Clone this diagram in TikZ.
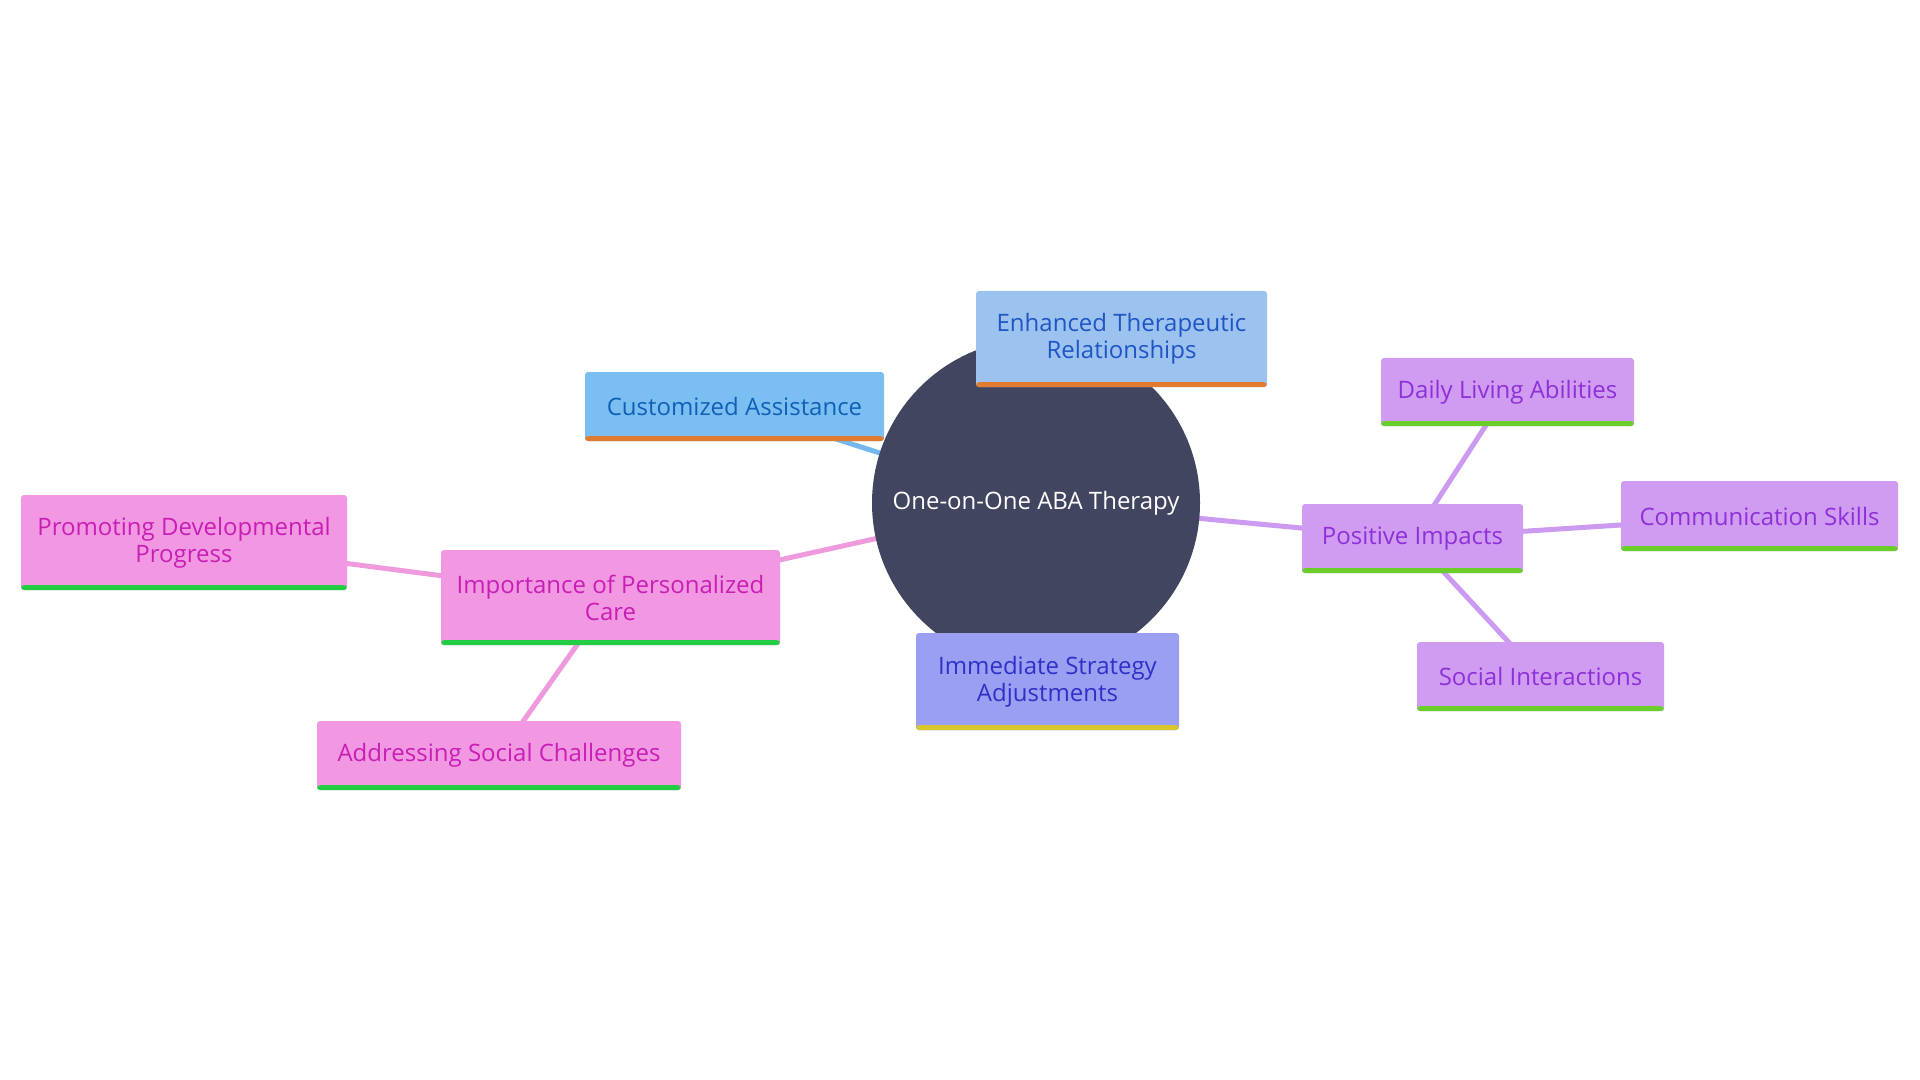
\documentclass[tikz,border=0pt]{standalone}
\usepackage{fontspec}
\setmainfont{Open Sans}
\usetikzlibrary{backgrounds}
\definecolor{hubfill}{HTML}{414560}
\definecolor{custfill}{HTML}{7BBEF2}
\definecolor{custtext}{HTML}{1060B8}
\definecolor{enhfill}{HTML}{9CC3F0}
\definecolor{enhtext}{HTML}{1F55C4}
\definecolor{orangebar}{HTML}{E07B30}
\definecolor{immfill}{HTML}{9B9FF2}
\definecolor{immtext}{HTML}{3030C8}
\definecolor{yellowbar}{HTML}{D8C72A}
\definecolor{purfill}{HTML}{CF9CF2}
\definecolor{purtext}{HTML}{8E30D8}
\definecolor{limebar}{HTML}{6ACD2A}
\definecolor{pinkfill}{HTML}{F298E2}
\definecolor{pinktext}{HTML}{C81EB4}
\definecolor{greenbar}{HTML}{22CC44}
\definecolor{bluelink}{HTML}{74B8EE}
\definecolor{purlink}{HTML}{CC9AF0}
\definecolor{pinklink}{HTML}{F09ADE}
\tikzset{
  box/.style={rectangle, rounded corners=1.5pt, inner sep=0pt, align=center,
    font=\fontsize{12}{13.5}\selectfont,
    path picture={\fill[#1] ([yshift=-1pt]path picture bounding box.south west) rectangle ([yshift=2.4pt]path picture bounding box.south east);}},
  custbox/.style={box=orangebar, fill=custfill, text=custtext},
  enhbox/.style={box=orangebar, fill=enhfill, text=enhtext},
  immbox/.style={box=yellowbar, fill=immfill, text=immtext},
  purbox/.style={box=limebar, fill=purfill, text=purtext},
  pinkbox/.style={box=greenbar, fill=pinkfill, text=pinktext},
  link/.style={line width=2.5pt, draw=#1}
}
\begin{document}
\begin{tikzpicture}[x=0.5pt,y=-0.5pt]
\useasboundingbox (0,0) rectangle (1920,1080);
\node[circle, fill=hubfill, minimum size=164pt, inner sep=0pt, text=white, font=\fontsize{12}{13.5}\selectfont] (hub) at (1036,503) {One-on-One ABA Therapy};
\node[custbox, minimum width=149.5pt, minimum height=34.5pt] (cust) at (734.5,406.5) {Customized Assistance};
\node[enhbox, minimum width=145.5pt, minimum height=48pt] (enh) at (1121.5,339) {Enhanced Therapeutic\\Relationships};
\node[immbox, minimum width=131.5pt, minimum height=48.5pt] (imm) at (1047.5,681.5) {Immediate Strategy\\Adjustments};
\node[purbox, minimum width=110.5pt, minimum height=34.5pt] (pos) at (1412.5,538.5) {Positive Impacts};
\node[purbox, minimum width=126.5pt, minimum height=34pt] (daily) at (1507.5,392) {Daily Living Abilities};
\node[purbox, minimum width=138.5pt, minimum height=35pt] (comm) at (1759.5,516) {Communication Skills};
\node[purbox, minimum width=123.5pt, minimum height=34.5pt] (soc) at (1540.5,676.5) {Social Interactions};
\node[pinkbox, minimum width=169.5pt, minimum height=47.5pt] (imp) at (610.5,597.5) {Importance of Personalized\\Care};
\node[pinkbox, minimum width=163pt, minimum height=47.5pt] (prom) at (184,542.5) {Promoting Developmental\\Progress};
\node[pinkbox, minimum width=182pt, minimum height=34.5pt] (addr) at (499,755.5) {Addressing Social Challenges};
\begin{pgfonlayer}{background}
\draw[link=bluelink] (hub.center) -- (cust.center);
\draw[link=bluelink] (hub.center) -- (enh.center);
\draw[link=immfill] (hub.center) -- (imm.center);
\draw[link=purlink] (hub.center) -- (pos.center);
\draw[link=purlink] (pos.center) -- (daily.center);
\draw[link=purlink] (pos.center) -- (comm.center);
\draw[link=purlink] (pos.center) -- (soc.center);
\draw[link=pinklink] (hub.center) -- (imp.center);
\draw[link=pinklink] (imp.center) -- (prom.center);
\draw[link=pinklink] (imp.center) -- (addr.center);
\end{pgfonlayer}
\end{tikzpicture}
\end{document}
